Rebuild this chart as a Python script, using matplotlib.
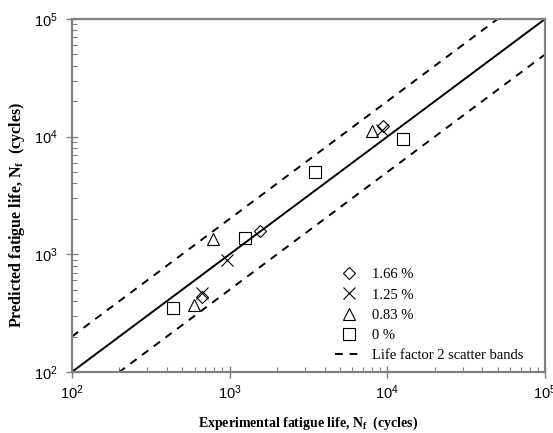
import numpy as np
import matplotlib.pyplot as plt

# experimental vs predicted fatigue life (cycles)
exp_166 = [664, 1560, 9400]
pred_166 = [431, 1580, 12300]
exp_125 = [664, 957, 9250]
pred_125 = [467, 896, 11400]
exp_083 = [594, 787, 7980]
pred_083 = [371, 1350, 11200]
exp_0 = [439, 1250, 3475, 12500]
pred_0 = [352, 1370, 4980, 9550]

labels = ['1.66 %', '1.25 %', '0.83 %', '0 %', 'Life factor 2 scatter bands']

plt.rcParams['font.family'] = 'Liberation Serif'
plt.rcParams['mathtext.fontset'] = 'custom'
plt.rcParams['mathtext.rm'] = 'Liberation Serif'
plt.rcParams['mathtext.bf'] = 'Liberation Serif:bold'

fig = plt.figure(figsize=(5.53, 4.33), dpi=100)
ax = fig.add_axes([0.130, 0.141, 0.8555, 0.815])

mk = dict(linestyle='none', color='black', markerfacecolor='none', markeredgewidth=0.8)
ax.plot(exp_166, pred_166, marker='D', markersize=6, label=labels[0], **mk)
ax.plot(exp_125, pred_125, marker='x', markersize=8, label=labels[1], **mk)
ax.plot(exp_083, pred_083, marker='^', markersize=8, label=labels[2], **mk)
ax.plot(exp_0, pred_0, marker='s', markersize=8, label=labels[3], **mk)

line = np.array([1e2, 1e5])
ax.plot(line, line, color='black', lw=1.4)
ax.plot(line, 2 * line, color='black', lw=1.4, dashes=(4, 3.5), label=labels[4])
ax.plot(line, line / 2, color='black', lw=1.4, dashes=(4, 3.5))

ax.set_xscale('log')
ax.set_yscale('log')
ax.set_xlim(1e2, 1e5)
ax.set_ylim(1e2, 1e5)

for s in ax.spines.values():
    s.set_color('#808080')
    s.set_linewidth(1.6)

ax.tick_params(which='major', direction='inout', length=8, width=1, color='#808080',
               labelsize=10.5)
ax.tick_params(which='minor', direction='in', length=3.5, width=0.8, color='#808080')
ax.tick_params(axis='x', pad=4)
ax.tick_params(axis='y', pad=6)
for t in ax.get_xticklabels() + ax.get_yticklabels():
    t.set_family('Liberation Sans')

ax.set_xlabel(r'Experimental fatigue life, N$_\mathbf{f}$  (cycles)', fontsize=10,
              fontweight='bold')
ax.xaxis.set_label_coords(0.5, -0.12)
ax.set_ylabel(r'Predicted fatigue life, N$_\mathbf{f}$  (cycles)', fontsize=11.5,
              fontweight='bold')
ax.yaxis.set_label_coords(-0.095, 0.445)

ax.legend(loc='lower right', bbox_to_anchor=(0.975, 0.0), frameon=False, fontsize=10.5,
          handlelength=1.9, handletextpad=0.6, labelspacing=0.47, borderaxespad=0.3)

fig.savefig('out.png', dpi=100)
